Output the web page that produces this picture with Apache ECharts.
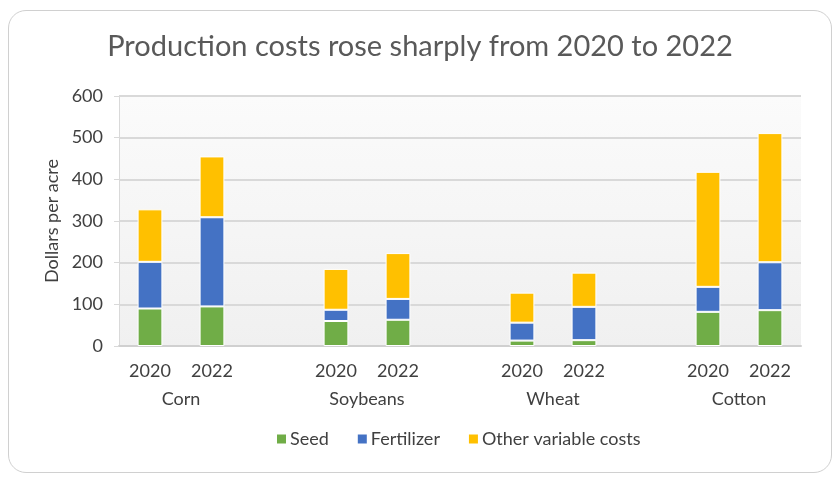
<!doctype html>
<html>
<head>
    <meta charset="utf-8">
    <title>Production costs</title>
    <style>
        html, body { margin: 0; padding: 0; background: #fff; }
        #frame {
            position: absolute; left: 8px; top: 10px; width: 822px; height: 461px;
            border: 1px solid #d0d0d0; border-radius: 18px;
        }
        #chart { position: absolute; left: 0; top: 0; width: 840px; height: 483px; }
    </style>
</head>
<body>
    <div id="frame"></div>
    <div id="chart"></div>
</body>
</html>
<script type="text/javascript" src="https://cdn.jsdelivr.net/npm/echarts@6/dist/echarts.min.js"></script>
<script type="text/javascript">
    // 年份 + 空位（组之间的间隔）
    var years = ['2020', '2022', '', '2020', '2022', '', '2020', '2022', '', '2020', '2022'];
    var crops = ['Corn', 'Soybeans', 'Wheat', 'Cotton'];
    var cropPos = [1, 4, 7, 10];

    var seed = [90, 95, null, 60, 63, null, 13, 14, null, 82, 86];
    var fertilizer = [112, 214, null, 27, 50, null, 43, 80, null, 60, 115];
    var otherCosts = [126, 146, null, 98, 110, null, 72, 82, null, 276, 310];

    var font = 'Lato, "Open Sans", sans-serif';

    var myChart = echarts.init(document.getElementById('chart'));

    var option = {
        animation: false,
        textStyle: { fontFamily: font },
        title: {
            text: 'Production costs rose sharply from 2020 to 2022',
            left: 'center',
            top: 27,
            textStyle: { fontFamily: font, fontSize: 29, fontWeight: 'normal', color: '#595959' }
        },
        legend: {
            data: ['Seed', 'Fertilizer', 'Other variable costs'],
            left: 270,
            top: 425,
            icon: 'rect',
            itemWidth: 11,
            itemHeight: 11,
            itemGap: 27,
            textStyle: { fontFamily: font, fontSize: 18, color: '#404040', padding: [0, 0, 0, -2] }
        },
        grid: {
            left: 119,
            right: 39,
            top: 96,
            bottom: 137,
            show: true,
            borderWidth: 0,
            backgroundColor: {
                type: 'linear', x: 0, y: 0, x2: 0, y2: 1,
                colorStops: [{ offset: 0, color: '#fbfbfb' }, { offset: 1, color: '#f0f0f0' }]
            }
        },
        xAxis: [{
            type: 'category',
            data: years,
            axisLine: { lineStyle: { color: '#d0d0d0', width: 2 } },
            axisTick: { show: false },
            axisLabel: { fontSize: 18, color: '#404040', margin: 16, interval: 0 }
        }, {
            type: 'value',
            min: 0,
            max: 11,
            interval: 1,
            position: 'bottom',
            axisLine: { show: false },
            axisTick: { show: false },
            splitLine: { show: false },
            axisLabel: {
                fontSize: 18, color: '#404040', margin: 44, showMinLabel: true, showMaxLabel: true,
                formatter: function(v) {
                    var i = cropPos.indexOf(v);
                    return i >= 0 ? crops[i] : '';
                }
            }
        }],
        yAxis: {
            type: 'value',
            name: 'Dollars per acre',
            nameLocation: 'middle',
            nameGap: 53,
            nameTextStyle: { fontSize: 18, color: '#404040' },
            min: 0,
            max: 600,
            interval: 100,
            axisLine: { show: true, lineStyle: { color: '#d9d9d9', width: 1 } },
            axisLabel: { fontSize: 18, color: '#404040', margin: 16 },
            splitLine: { lineStyle: { color: '#d9d9d9', width: 2 } }
        },
        series: [{
            name: 'Seed',
            type: 'bar',
            stack: 'cost',
            barWidth: '40%',
            itemStyle: { color: '#70AD47', borderColor: '#fff', borderWidth: 1 },
            data: seed
        }, {
            name: 'Fertilizer',
            type: 'bar',
            stack: 'cost',
            itemStyle: { color: '#4472C4', borderColor: '#fff', borderWidth: 1 },
            data: fertilizer
        }, {
            name: 'Other variable costs',
            type: 'bar',
            stack: 'cost',
            itemStyle: { color: '#FFC000', borderColor: '#fff', borderWidth: 1 },
            data: otherCosts
        }]
    };

    myChart.setOption(option);
</script>
